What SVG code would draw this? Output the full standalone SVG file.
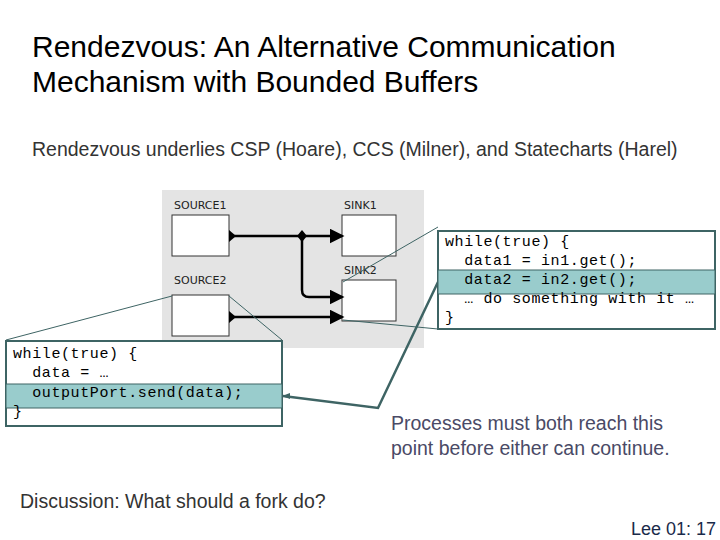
<svg xmlns="http://www.w3.org/2000/svg" width="720" height="540" viewBox="0 0 720 540">
<style>
.t{font-family:"Liberation Sans",Arial,sans-serif}
.m{font-family:"Liberation Mono","Courier New",monospace;font-size:15px;letter-spacing:0.6px;fill:#000;white-space:pre}
.box{fill:#fff;stroke:#333;stroke-width:1}
.lbl{font-family:"DejaVu Sans",sans-serif;font-size:11px;fill:#222}
.w{stroke:#000;stroke-width:2.5;fill:none;marker-end:url(#a)}
.cb{fill:#fff;stroke:#3e6464;stroke-width:2}
.hl{fill:#99cccc;stroke:#3e6464;stroke-width:1}
.thin{stroke:#3e6464;stroke-width:1;fill:none}
</style>
<defs>
<marker id="a" markerWidth="6" markerHeight="6" refX="5" refY="3" orient="auto" markerUnits="strokeWidth"><path d="M0,0L6,3L0,6z" fill="#000"/></marker>
</defs>
<rect width="720" height="540" fill="#fff"/>
<text class="t" x="32" y="57" font-size="30" fill="#000">Rendezvous: An Alternative Communication</text>
<text class="t" x="32" y="92" font-size="30" fill="#000">Mechanism with Bounded Buffers</text>
<text class="t" x="32" y="156" font-size="19.5" fill="#333">Rendezvous underlies CSP (Hoare), CCS (Milner), and Statecharts (Harel)</text>
<rect x="162" y="190" width="262" height="158" fill="#e4e4e4"/>
<g id="source1"><text class="lbl" x="174" y="209">SOURCE1</text><rect class="box" x="172" y="215" width="57" height="41"/></g>
<g id="sink1"><text class="lbl" x="344" y="209">SINK1</text><rect class="box" x="342" y="215" width="54" height="41"/></g>
<g id="sink2"><text class="lbl" x="344" y="274">SINK2</text><rect class="box" x="342" y="280" width="54" height="41"/></g>
<g id="source2"><text class="lbl" x="174" y="284">SOURCE2</text><rect class="box" x="172" y="295" width="57" height="41"/></g>
<g id="connectors">
<path d="M229,236 L342,236" class="w"/>
<path d="M302,236 L302,290 Q302,297 309,297 L342,297" class="w"/>
<path d="M229,317 L342,317" class="w"/>
<path d="M302,230 L307,236 L302,242 L297,236z" fill="#000"/>
<path d="M229,230 L236,236 L229,242z" fill="#000"/>
<path d="M229,311 L236,317 L229,323z" fill="#000"/>
<path class="thin" d="M438,227 L343,282 M438,329 L343,320 M6,340 L172,296 M282,340 L229,296"/>
<path d="M283,396 L378,408 L438,282" fill="none" stroke="#3e6464" stroke-width="2.5"/>
<path d="M282,396 L290,393 L290,399z" fill="#3e6464"/>
</g>
<g id="code2">
<rect class="cb" x="438" y="231" width="277" height="98"/>
<rect class="hl" x="438" y="270" width="277" height="24"/>
<text class="m" x="445" y="246" xml:space="preserve">while(true) {</text>
<text class="m" x="445" y="265" xml:space="preserve">  data1 = in1.get();</text>
<text class="m" x="445" y="284" xml:space="preserve">  data2 = in2.get();</text>
<text class="m" x="445" y="303" xml:space="preserve">  … do something with it …</text>
<text class="m" x="445" y="322" xml:space="preserve">}</text>
</g>
<g id="code1">
<rect class="cb" x="6" y="341" width="276" height="85"/>
<rect class="hl" x="6" y="384" width="276" height="24"/>
<text class="m" x="13" y="358" xml:space="preserve">while(true) {</text>
<text class="m" x="13" y="377" xml:space="preserve">  data = …</text>
<text class="m" x="13" y="397" xml:space="preserve">  outputPort.send(data);</text>
<text class="m" x="13" y="416" xml:space="preserve">}</text>
</g>
<text class="t" x="391" y="430" font-size="19.5" fill="#4a4a66">Processes must both reach this</text>
<text class="t" x="391" y="455" font-size="19.5" fill="#4a4a66">point before either can continue.</text>
<text class="t" x="20" y="508" font-size="19.5" fill="#333">Discussion: What should a fork do?</text>
<text class="t" x="716" y="535" font-size="18" fill="#1a2a4a" text-anchor="end">Lee 01: 17</text>
</svg>
